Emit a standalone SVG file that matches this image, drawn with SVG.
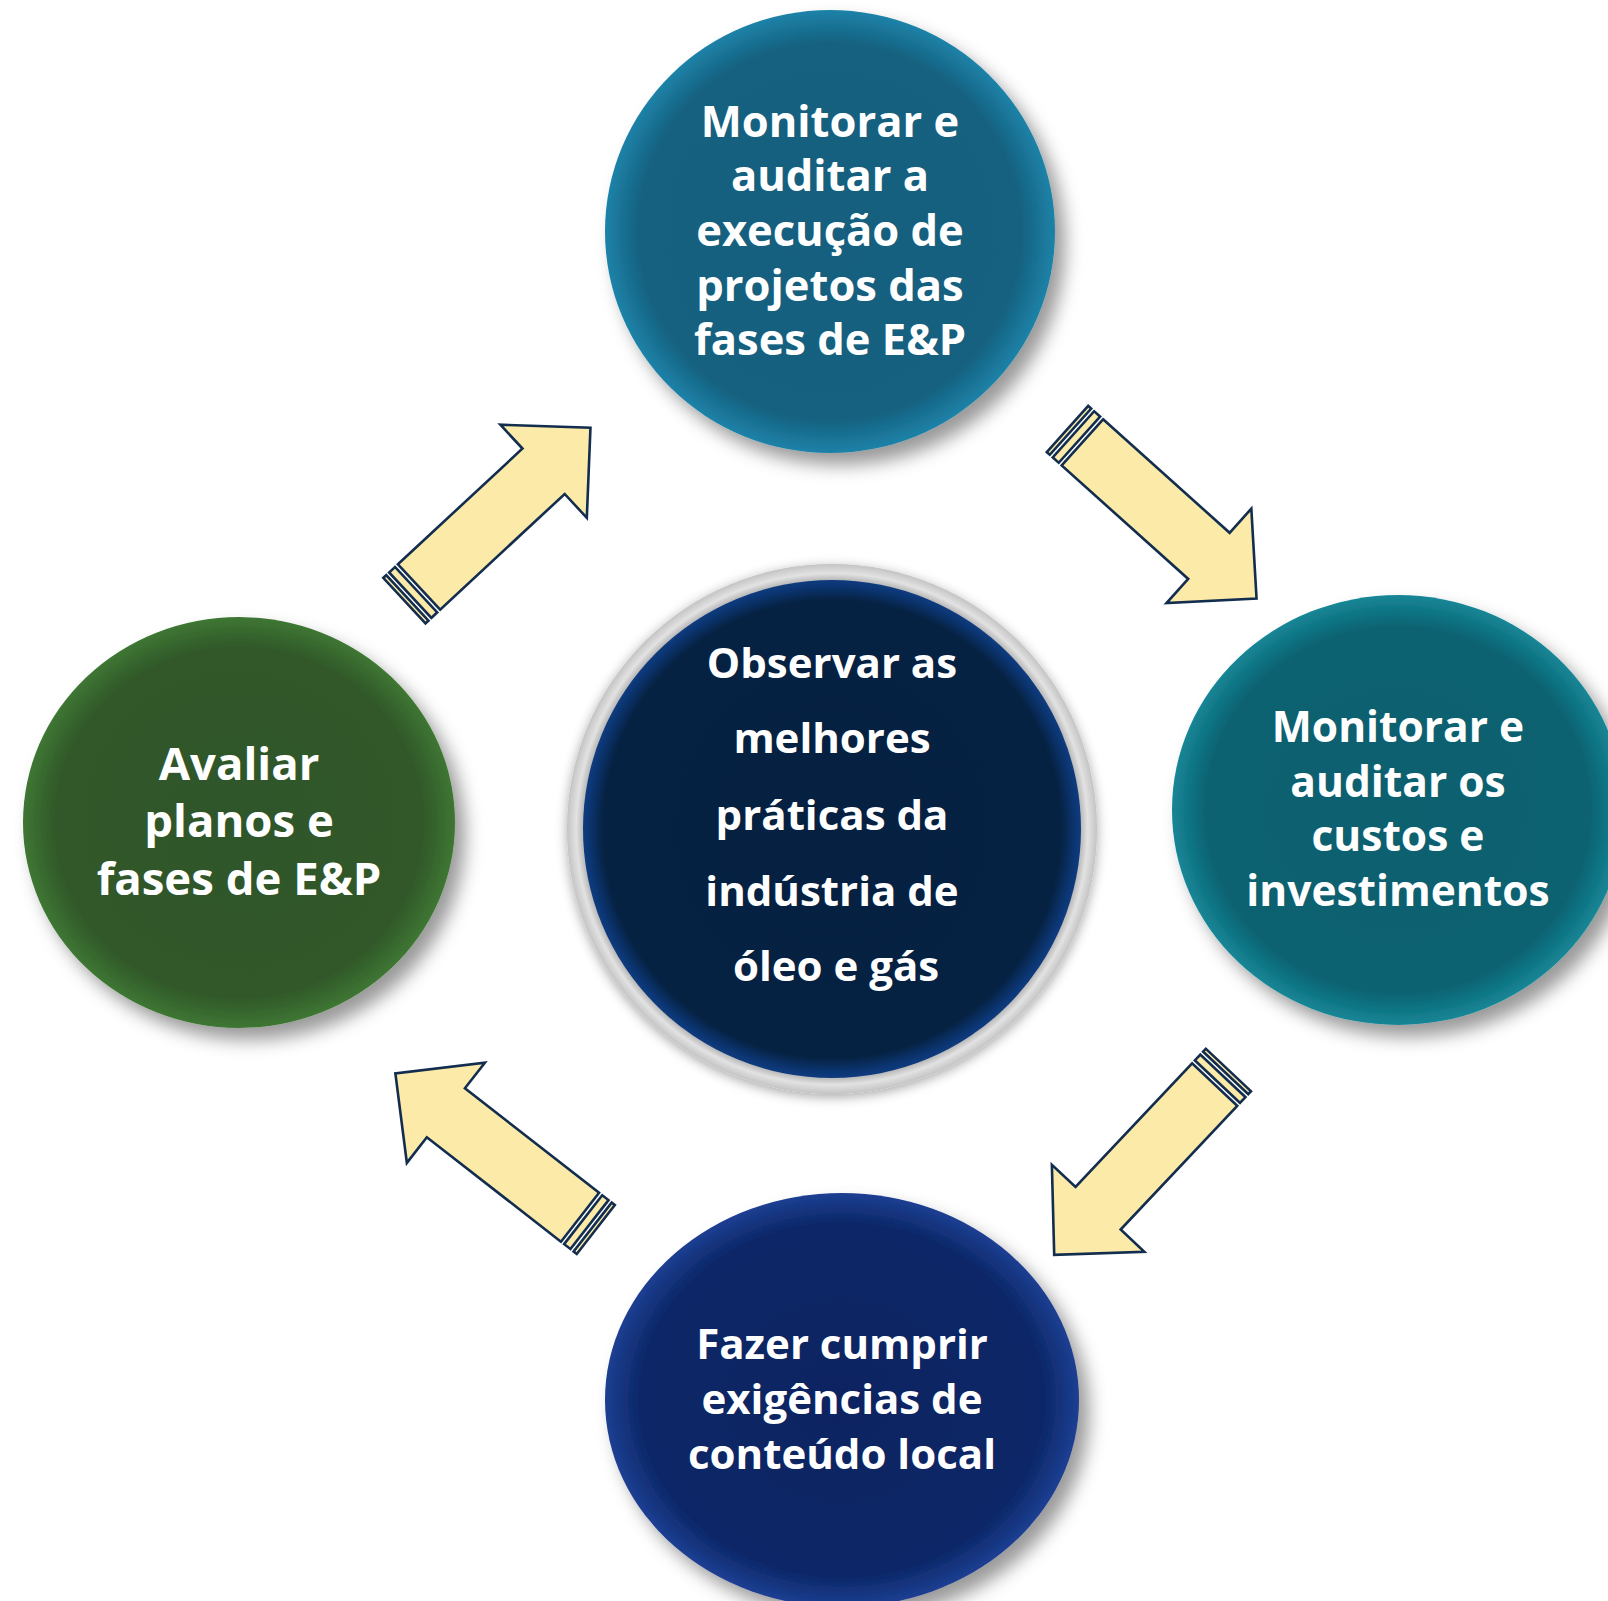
<svg xmlns="http://www.w3.org/2000/svg" width="1608" height="1601" viewBox="0 0 1608 1601">
<style>
.lbl{font-family:"Open Sans","Noto Sans","Liberation Sans",sans-serif;font-weight:700;fill:#ffffff;text-anchor:middle}
.arr{fill:#fbeaa8;stroke:#132d4f;stroke-width:2.6;stroke-linejoin:miter}
</style>
<defs>
<filter id="sh" x="-20%" y="-20%" width="150%" height="150%">
<feDropShadow dx="10" dy="12" stdDeviation="9" flood-color="#000" flood-opacity="0.4"/>
</filter>
<filter id="shc" x="-20%" y="-20%" width="150%" height="150%">
<feDropShadow dx="0" dy="3" stdDeviation="6" flood-color="#000" flood-opacity="0.35"/>
</filter>
<radialGradient id="gTop" cx="50%" cy="50%" r="50%">
<stop offset="0" stop-color="#135f7e"/><stop offset="0.85" stop-color="#146180"/><stop offset="1" stop-color="#1e82a8"/>
</radialGradient>
<radialGradient id="gRight" cx="50%" cy="50%" r="50%">
<stop offset="0" stop-color="#07606e"/><stop offset="0.85" stop-color="#086271"/><stop offset="1" stop-color="#168696"/>
</radialGradient>
<radialGradient id="gLeft" cx="50%" cy="50%" r="50%">
<stop offset="0" stop-color="#2f5729"/><stop offset="0.85" stop-color="#30582a"/><stop offset="1" stop-color="#3e7632"/>
</radialGradient>
<radialGradient id="gBot" cx="50%" cy="50%" r="50%">
<stop offset="0" stop-color="#0a2461"/><stop offset="0.85" stop-color="#0c2767"/><stop offset="1" stop-color="#1c3f92"/>
</radialGradient>
<radialGradient id="gMid" cx="50%" cy="50%" r="50%">
<stop offset="0" stop-color="#052040"/><stop offset="0.92" stop-color="#062243"/><stop offset="0.975" stop-color="#0b3571"/><stop offset="1" stop-color="#0f3c80"/>
</radialGradient>
<radialGradient id="gRing" cx="50%" cy="50%" r="50%">
<stop offset="0.93" stop-color="#a9a9a9"/><stop offset="0.965" stop-color="#e2e2e2"/><stop offset="1" stop-color="#c4c4c4"/>
</radialGradient>
<g id="arrowShape">
<rect class="arr" x="0" y="-31" width="4" height="62"/>
<rect class="arr" x="8" y="-31" width="8" height="62"/>
<polygon class="arr" points="20,-31 190,-31 190,-63.5 254,0 190,63.5 190,31 20,31"/>
</g>
</defs>
<rect width="1608" height="1601" fill="#ffffff"/>

<g id="node-top">
<ellipse cx="830" cy="231.5" rx="225" ry="221.5" fill="url(#gTop)" filter="url(#sh)"/>
<text class="lbl" font-size="43.5" x="830" y="137">Monitorar e</text>
<text class="lbl" font-size="43.5" x="830" y="191">auditar a</text>
<text class="lbl" font-size="43.5" x="830" y="246">execução de</text>
<text class="lbl" font-size="43.5" x="830" y="301">projetos das</text>
<text class="lbl" font-size="43.5" x="830" y="355">fases de E&amp;P</text>
</g>

<g id="node-right">
<ellipse cx="1398" cy="810" rx="226" ry="215" fill="url(#gRight)" filter="url(#sh)"/>
<text class="lbl" font-size="42.5" x="1398" y="742">Monitorar e</text>
<text class="lbl" font-size="42.5" x="1398" y="797">auditar os</text>
<text class="lbl" font-size="42.5" x="1398" y="851">custos e</text>
<text class="lbl" font-size="42.5" x="1398" y="906">investimentos</text>
</g>

<g id="node-left">
<ellipse cx="239" cy="822.5" rx="216" ry="205.5" fill="url(#gLeft)" filter="url(#sh)"/>
<text class="lbl" font-size="45.5" x="239" y="780">Avaliar</text>
<text class="lbl" font-size="45.5" x="239" y="837">planos e</text>
<text class="lbl" font-size="45.5" x="239" y="895">fases de E&amp;P</text>
</g>

<g id="node-bottom">
<ellipse cx="842" cy="1400" rx="237" ry="207" fill="url(#gBot)" filter="url(#sh)"/>
<text class="lbl" font-size="42" x="842" y="1359">Fazer cumprir</text>
<text class="lbl" font-size="42" x="842" y="1414">exigências de</text>
<text class="lbl" font-size="42" x="842" y="1469">conteúdo local</text>
</g>

<g id="node-center">
<circle cx="832" cy="829" r="265" fill="url(#gRing)" filter="url(#shc)"/>
<circle cx="832" cy="829" r="249" fill="url(#gMid)"/>
<text class="lbl" font-size="42" x="832" y="678">Observar as</text>
<text class="lbl" font-size="42" x="832" y="753">melhores</text>
<text class="lbl" font-size="42" x="832" y="830">práticas da</text>
<text class="lbl" font-size="42" x="832" y="906">indústria de</text>
<text class="lbl" font-size="42" x="836" y="981">óleo e gás</text>
</g>

<g id="connectors">
<use href="#arrowShape" transform="translate(404.4,600.6) rotate(-42.9)"/>
<use href="#arrowShape" transform="translate(1067.5,429) rotate(41.9)"/>
<use href="#arrowShape" transform="translate(1228.4,1070) rotate(133.3)"/>
<use href="#arrowShape" transform="translate(595.8,1229.5) rotate(-142.1)"/>
</g>
</svg>
